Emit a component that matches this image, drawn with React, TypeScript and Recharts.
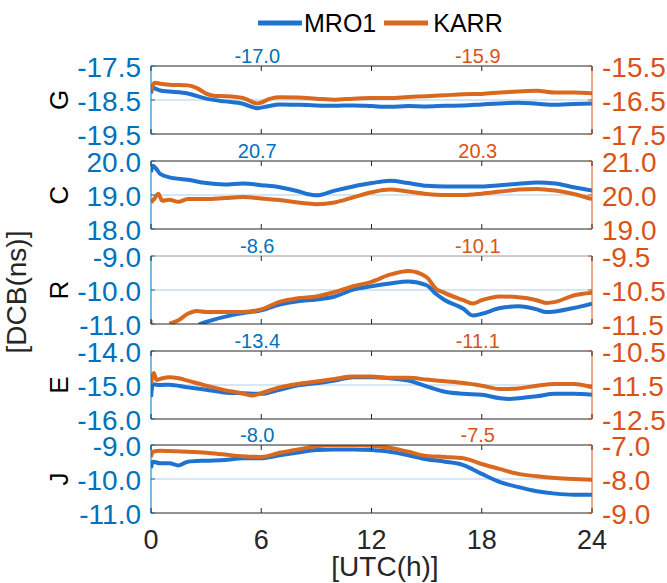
import React from 'react';
import { LineChart, Line, XAxis, YAxis, CartesianGrid, Legend } from 'recharts';

// ---------- data ----------
const SERIES_NAMES = ['MRO1', 'KARR'];
const SYSTEMS = ['G', 'C', 'R', 'E', 'J'];
const HOUR_TICKS = [0, 6, 12, 18, 24];

const LEFT_TICKS = [
  [-19.5, -18.5, -17.5],
  [18.0, 19.0, 20.0],
  [-11.0, -10.0, -9.0],
  [-16.0, -15.0, -14.0],
  [-11.0, -10.0, -9.0],
];
const RIGHT_TICKS = [
  [-17.5, -16.5, -15.5],
  [19.0, 20.0, 21.0],
  [-11.5, -10.5, -9.5],
  [-12.5, -11.5, -10.5],
  [-9.0, -8.0, -7.0],
];
const NOTES_MRO1 = ['-17.0', '20.7', '-8.6', '-13.4', '-8.0'];
const NOTES_KARR = ['-15.9', '20.3', '-10.1', '-11.1', '-7.5'];

// G
const G_MRO1_H = [0, 0.1, 0.5, 1, 2, 3, 4, 5, 5.8, 6.3, 7, 8, 9, 10, 11, 12, 13, 14, 15, 16, 17, 18, 19, 20, 21, 22, 23, 24];
const G_MRO1_V = [-18.3, -18.15, -18.22, -18.25, -18.31, -18.46, -18.54, -18.61, -18.74, -18.69, -18.63, -18.64, -18.66, -18.67, -18.66, -18.68, -18.7, -18.68, -18.69, -18.67, -18.66, -18.63, -18.6, -18.58, -18.61, -18.64, -18.62, -18.6];
const G_KARR_H = [0, 0.2, 0.5, 1, 2, 2.5, 3, 3.5, 4, 5, 5.8, 6.5, 7, 8, 9, 10, 11, 12, 13, 14, 15, 16, 17, 18, 19, 20, 21, 22, 23, 24];
const G_KARR_V = [-16.26, -15.99, -16.02, -16.05, -16.07, -16.15, -16.31, -16.38, -16.39, -16.44, -16.6, -16.46, -16.42, -16.43, -16.46, -16.49, -16.46, -16.44, -16.44, -16.41, -16.39, -16.36, -16.33, -16.32, -16.28, -16.25, -16.23, -16.28, -16.28, -16.3];

// C
const C_MRO1_H = [0, 0.1, 0.3, 0.5, 1, 2, 3, 4, 5, 6, 7, 8, 8.5, 9, 10, 11, 12, 13, 14, 15, 16, 17, 18, 19, 20, 21, 22, 23, 24];
const C_MRO1_V = [19.67, 19.86, 19.76, 19.62, 19.52, 19.45, 19.35, 19.31, 19.34, 19.29, 19.23, 19.11, 19.03, 18.99, 19.13, 19.25, 19.35, 19.42, 19.35, 19.27, 19.25, 19.25, 19.25, 19.29, 19.33, 19.37, 19.34, 19.23, 19.13];
const C_KARR_H = [0, 0.2, 0.4, 0.6, 1, 1.5, 2, 3, 4, 5, 6, 7, 8, 9, 10, 11, 12, 13, 14, 15, 16, 17, 18, 19, 20, 21, 22, 23, 24];
const C_KARR_V = [19.78, 19.9, 20.04, 19.83, 19.86, 19.8, 19.88, 19.88, 19.91, 19.94, 19.9, 19.85, 19.78, 19.73, 19.78, 19.93, 20.08, 20.16, 20.1, 20.03, 20.0, 20.0, 20.04, 20.1, 20.16, 20.18, 20.13, 20.03, 19.88];

// R
const R_MRO1_H = [2.6, 3, 4, 5, 6, 7, 8, 9, 10, 11, 12, 13, 14, 15, 15.5, 16, 17, 17.5, 18, 19, 20, 21, 21.5, 22, 23, 24];
const R_MRO1_V = [-11.02, -10.94, -10.79, -10.68, -10.6, -10.43, -10.33, -10.28, -10.19, -9.99, -9.89, -9.81, -9.75, -9.86, -10.11, -10.3, -10.55, -10.75, -10.7, -10.53, -10.48, -10.57, -10.65, -10.63, -10.53, -10.4];
const R_KARR_H = [0, 0.08, 0.5, 1, 1.5, 2, 2.5, 3, 4, 5, 6, 7, 8, 9, 10, 11, 12, 13, 14, 15, 15.5, 16, 17, 17.5, 18, 19, 20, 21, 21.5, 22, 23, 24];
const R_KARR_V = [-11.44, -11.44, null, -11.49, -11.39, -11.2, -11.12, -11.15, -11.15, -11.15, -11.07, -10.85, -10.74, -10.69, -10.56, -10.39, -10.26, -10.05, -9.94, -10.12, -10.46, -10.59, -10.8, -10.9, -10.8, -10.69, -10.71, -10.8, -10.88, -10.85, -10.66, -10.58];

// E
const E_MRO1_H = [0, 0.1, 0.5, 1, 2, 3, 4, 5, 6, 7, 8, 9, 10, 11, 12, 13, 14, 15, 16, 17, 18, 19, 19.5, 20, 21, 22, 23, 24];
const E_MRO1_V = [-15.35, -14.98, -15.0, -14.99, -15.07, -15.14, -15.22, -15.24, -15.26, -15.14, -15.01, -14.95, -14.87, -14.77, -14.77, -14.8, -14.87, -15.04, -15.2, -15.26, -15.29, -15.39, -15.41, -15.39, -15.33, -15.26, -15.26, -15.29];
const E_KARR_H = [0, 0.15, 0.3, 0.5, 1, 1.5, 2, 3, 4, 5, 5.5, 6, 7, 8, 9, 10, 11, 12, 13, 14, 15, 16, 17, 18, 19, 20, 21, 22, 23, 24];
const E_KARR_V = [-11.47, -11.15, -11.35, -11.32, -11.27, -11.3, -11.37, -11.52, -11.65, -11.75, -11.81, -11.74, -11.57, -11.47, -11.4, -11.32, -11.25, -11.25, -11.29, -11.29, -11.34, -11.39, -11.44, -11.52, -11.62, -11.6, -11.52, -11.47, -11.47, -11.57];

// J
const J_MRO1_H = [0, 0.1, 0.5, 1, 1.5, 2, 3, 4, 5, 6, 7, 8, 9, 10, 11, 12, 13, 14, 15, 16, 17, 18, 19, 20, 21, 22, 23, 24];
const J_MRO1_V = [-9.68, -9.49, -9.54, -9.54, -9.6, -9.49, -9.46, -9.44, -9.39, -9.39, -9.3, -9.22, -9.15, -9.13, -9.13, -9.15, -9.2, -9.3, -9.42, -9.49, -9.59, -9.85, -10.09, -10.24, -10.36, -10.43, -10.46, -10.46];
const J_KARR_H = [0, 0.1, 0.5, 1, 2, 3, 4, 5, 6, 7, 8, 9, 10, 11, 12, 13, 14, 15, 16, 17, 18, 19, 20, 21, 22, 23, 24];
const J_KARR_V = [-7.35, -7.2, -7.17, -7.18, -7.2, -7.23, -7.28, -7.33, -7.35, -7.23, -7.13, -7.04, -7.0, -7.0, -7.02, -7.08, -7.2, -7.32, -7.35, -7.39, -7.56, -7.71, -7.85, -7.92, -7.97, -8.0, -8.02];

const MRO1_HOURS = [G_MRO1_H, C_MRO1_H, R_MRO1_H, E_MRO1_H, J_MRO1_H];
const MRO1_VALUES = [G_MRO1_V, C_MRO1_V, R_MRO1_V, E_MRO1_V, J_MRO1_V];
const KARR_HOURS = [G_KARR_H, C_KARR_H, R_KARR_H, E_KARR_H, J_KARR_H];
const KARR_VALUES = [G_KARR_V, C_KARR_V, R_KARR_V, E_KARR_V, J_KARR_V];

// ---------- style / layout ----------
const FONT = '"Liberation Sans", Arial, Helvetica, sans-serif';
const BLUE_LINE = '#1f72cf';
const ORANGE_LINE = '#d8691f';
const BLUE_TEXT = '#0072BD';
const ORANGE_TEXT = '#D95319';
const AXIS_DARK = '#262626';
const GRID = '#d6e6f2';
const W = 667;
const PANEL_TOPS = [66, 161, 256, 351, 445];
const PLOT_H = 68;
const LEFT_W = 151;
const RIGHT_W = 75;
const X_AXIS_H = 1;

const zip = (h: number[], v: (number | null)[]) => h.map((x, i) => ({ h: x, v: v[i] }));

const makeBottomTick = (showLabel: boolean) => (props: any) => {
  const { x, y, payload } = props;
  return (
    <g>
      <line x1={x} y1={y} x2={x} y2={y - 5} stroke={AXIS_DARK} strokeWidth={1} />
      {showLabel && (
        <text x={x} y={y + 36} textAnchor="middle" fontSize={27} fontFamily={FONT} fill={AXIS_DARK}>
          {payload.value}
        </text>
      )}
    </g>
  );
};

const makeTopTick = (noteL: string, noteR: string) => (props: any) => {
  const { x, y, payload } = props;
  const v = payload.value;
  return (
    <g>
      <line x1={x} y1={y} x2={x} y2={y + 5} stroke={AXIS_DARK} strokeWidth={1} />
      {v === 6 && (
        <text x={x - 4} y={y - 3} textAnchor="middle" fontSize={20} fontFamily={FONT} fill={BLUE_TEXT}>
          {noteL}
        </text>
      )}
      {v === 18 && (
        <text x={x - 4} y={y - 3} textAnchor="middle" fontSize={20} fontFamily={FONT} fill={ORANGE_TEXT}>
          {noteR}
        </text>
      )}
    </g>
  );
};

const makeLeftTick = (color: string) => (props: any) => {
  const { x, y, payload } = props;
  return (
    <g>
      <line x1={x} y1={y} x2={x + 4} y2={y} stroke={color} strokeWidth={1} />
      <text x={x - 10} y={y + 11} textAnchor="end" fontSize={28} fontFamily={FONT} fill={color}>
        {Number(payload.value).toFixed(1)}
      </text>
    </g>
  );
};

const makeRightTick = (color: string) => (props: any) => {
  const { x, y, payload } = props;
  return (
    <g>
      <line x1={x} y1={y} x2={x - 4} y2={y} stroke={color} strokeWidth={1} />
      <text x={x + 10} y={y + 10.5} textAnchor="start" fontSize={28} fontFamily={FONT} fill={color}>
        {Number(payload.value).toFixed(1)}
      </text>
    </g>
  );
};

const renderLegend = (props: any) => {
  const payload = [...(props.payload || [])].sort(
    (a: any, b: any) => SERIES_NAMES.indexOf(a.value) - SERIES_NAMES.indexOf(b.value)
  );
  return (
    <div style={{ display: 'flex', alignItems: 'center', fontFamily: FONT, fontSize: 25, lineHeight: '30px', color: '#000', whiteSpace: 'nowrap' }}>
      {payload.map((entry: any, i: number) => (
        <div key={i} style={{ display: 'flex', alignItems: 'center', marginRight: i === 0 ? 8 : 0 }}>
          <svg width={44} height={6} style={{ display: 'block' }}>
            <line x1={0} y1={3} x2={44} y2={3} stroke={entry.color} strokeWidth={5} />
          </svg>
          <span style={{ marginLeft: i === 0 ? 2 : 5 }}>{entry.value}</span>
        </div>
      ))}
    </div>
  );
};

function Panel({ idx }: { idx: number }) {
  const isFirst = idx === 0;
  const isLast = idx === SYSTEMS.length - 1;
  const marginTop = isFirst ? PANEL_TOPS[0] - X_AXIS_H : 31;
  const marginBottom = isLast ? 50 : 20;
  const height = marginTop + X_AXIS_H + PLOT_H + X_AXIS_H + marginBottom;
  const top = PANEL_TOPS[idx] - marginTop - X_AXIS_H;
  const lt = LEFT_TICKS[idx];
  const rt = RIGHT_TICKS[idx];
  const mro = zip(MRO1_HOURS[idx], MRO1_VALUES[idx]);
  const karr = zip(KARR_HOURS[idx], KARR_VALUES[idx]);
  return (
    <div style={{ position: 'absolute', left: 0, top }}>
      <LineChart width={W} height={height} margin={{ top: marginTop, right: 0, bottom: marginBottom, left: 0 }}>
        <CartesianGrid xAxisId="b" yAxisId="left" vertical={false} horizontalValues={[lt[1]]} stroke={GRID} strokeWidth={2} />
        <XAxis
          xAxisId="b"
          type="number"
          dataKey="h"
          domain={[0, 24]}
          ticks={HOUR_TICKS}
          interval={0}
          allowDataOverflow
          height={X_AXIS_H}
          tickSize={0}
          tickMargin={0}
          tickLine={false}
          axisLine={{ stroke: AXIS_DARK, strokeWidth: 1 }}
          tick={makeBottomTick(isLast)}
        />
        <XAxis
          xAxisId="t"
          orientation="top"
          type="number"
          dataKey="h"
          domain={[0, 24]}
          ticks={HOUR_TICKS}
          interval={0}
          allowDataOverflow
          height={X_AXIS_H}
          tickSize={0}
          tickMargin={0}
          tickLine={false}
          axisLine={{ stroke: idx === 2 ? '#9a9a9a' : AXIS_DARK, strokeWidth: 1 }}
          tick={makeTopTick(NOTES_MRO1[idx], NOTES_KARR[idx])}
        />
        <YAxis
          yAxisId="left"
          orientation="left"
          type="number"
          domain={[lt[0], lt[2]]}
          ticks={lt}
          interval={0}
          allowDataOverflow
          width={LEFT_W}
          tickSize={0}
          tickMargin={0}
          tickLine={false}
          axisLine={{ stroke: BLUE_TEXT, strokeWidth: 1 }}
          tick={makeLeftTick(BLUE_TEXT)}
        />
        <YAxis
          yAxisId="right"
          orientation="right"
          type="number"
          domain={[rt[0], rt[2]]}
          ticks={rt}
          interval={0}
          allowDataOverflow
          width={RIGHT_W}
          tickSize={0}
          tickMargin={0}
          tickLine={false}
          axisLine={{ stroke: ORANGE_TEXT, strokeWidth: 1 }}
          tick={makeRightTick(ORANGE_TEXT)}
        />
        {isFirst && (
          <Legend
            layout="horizontal"
            align="center"
            verticalAlign="middle"
            wrapperStyle={{ top: 8, left: 258, width: 300, height: 30 }}
            content={renderLegend}
          />
        )}
        <Line
          xAxisId="b"
          yAxisId="left"
          data={mro}
          dataKey="v"
          name={SERIES_NAMES[0]}
          type="monotone"
          stroke={BLUE_LINE}
          strokeWidth={4}
          dot={false}
          isAnimationActive={false}
        />
        <Line
          xAxisId="b"
          yAxisId="right"
          data={karr}
          dataKey="v"
          name={SERIES_NAMES[1]}
          type="monotone"
          stroke={ORANGE_LINE}
          strokeWidth={4}
          dot={false}
          isAnimationActive={false}
        />
      </LineChart>
    </div>
  );
}

export default function App() {
  return (
    <div style={{ position: 'absolute', left: 0, top: 0, width: W, height: 583, background: '#fff', fontFamily: FONT }}>
      {SYSTEMS.map((s, i) => (
        <Panel key={s} idx={i} />
      ))}
      <svg width={W} height={583} style={{ position: 'absolute', left: 0, top: 0, pointerEvents: 'none' }}>
        <text transform="translate(26,292) rotate(-90)" textAnchor="middle" fontSize={28} fontFamily={FONT} fill={AXIS_DARK}>
          [DCB(ns)]
        </text>
        {SYSTEMS.map((s, i) => (
          <text
            key={s}
            transform={`translate(68,${PANEL_TOPS[i] + PLOT_H / 2}) rotate(-90)`}
            textAnchor="middle"
            fontSize={26}
            fontFamily={FONT}
            fill="#000"
          >
            {s}
          </text>
        ))}
        <text x={385} y={576} textAnchor="middle" fontSize={28} fontFamily={FONT} fill={AXIS_DARK}>
          [UTC(h)]
        </text>
      </svg>
    </div>
  );
}
